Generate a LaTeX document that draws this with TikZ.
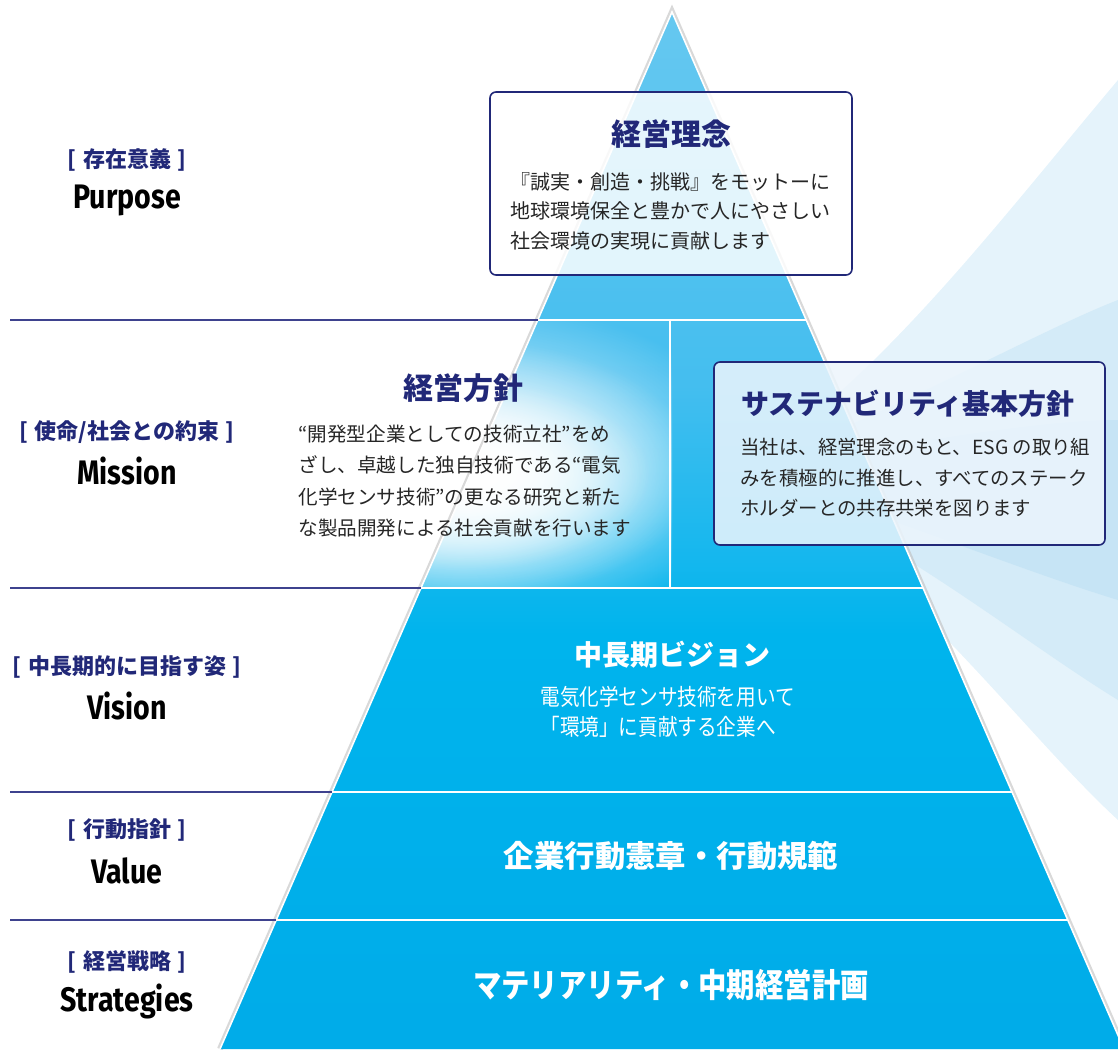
\documentclass[tikz,border=0pt]{standalone}
\usepackage{fontspec}
\setmainfont{Noto Sans CJK JP}
\newfontfamily\jpnarrow[FakeStretch=0.86]{Noto Sans CJK JP}
\newfontfamily\latcond[FakeStretch=0.84]{Fira Sans}
\usepackage{tikz}
\usetikzlibrary{positioning}
\usetikzlibrary{calc}
\usetikzlibrary{fadings}
\definecolor{navy}{RGB}{33,40,120}
\definecolor{navyline}{RGB}{62,66,142}
\definecolor{pyrtop}{RGB}{152,216,245}
\definecolor{pyrupper}{RGB}{96,198,240}
\definecolor{pyrmission}{RGB}{68,190,239}
\definecolor{pyrmid}{RGB}{0,180,237}
\definecolor{pyrbot}{RGB}{0,161,227}
\definecolor{boxblue}{RGB}{236,245,252}
\definecolor{swoosha}{RGB}{229,243,251}
\definecolor{swooshb}{RGB}{212,235,248}
\definecolor{swooshc}{RGB}{198,228,245}
\pgfdeclareverticalshading{pyrshade}{100bp}{color(0bp)=(pyrbot); color(45bp)=(pyrmid); color(57bp)=(pyrmission); color(72bp)=(pyrupper); color(100bp)=(pyrtop)}
\tikzfading[name=glow, inner color=transparent!0, outer color=transparent!100]

\begin{document}
\begin{tikzpicture}[x=0.5pt,y=-0.5pt]
		\tikzset{
			lbljp/.style={text=navy,font=\fontsize{11}{13}\selectfont\bfseries},
			lblen/.style={text=black,font=\latcond\fontsize{17}{19}\selectfont\bfseries},
		}
		\tikzset{
			boxtitle/.style={text=navy,font=\fontsize{15}{18}\selectfont\bfseries},
			boxbody/.style={text=black!85,align=left,inner sep=0pt,font=\fontsize{10}{14.75}\selectfont},
			tiertitle/.style={text=white,font=\fontsize{14}{17}\selectfont\bfseries},
			infobox/.style={draw=navy,line width=0.8pt,rounded corners=3pt},
			sepline/.style={draw=white,line width=0.8pt},
			lblline/.style={draw=navyline,line width=1pt},
		}
		\newcommand{\labx}{127}
		\newcommand{\brk}{\hspace{0.3em}}
		
		\useasboundingbox (0,0) rectangle (1118,1049);
		
		% swooshes behind the pyramid
		\fill[swoosha] (740,470) .. controls (880,380) and (1000,220) .. (1118,80) -- (1118,820) .. controls (1020,730) and (900,560) .. cycle;
		\fill[swooshb] (740,470) .. controls (900,410) and (1040,330) .. (1118,300) -- (1118,700) .. controls (1020,640) and (900,540) .. cycle;
		\fill[swooshc] (740,470) .. controls (930,440) and (1040,420) .. (1118,420) -- (1118,600) .. controls (1020,570) and (900,520) .. cycle;
		
		\coordinate (apex) at (672,12);
		\coordinate (bl) at (220,1049);
		\coordinate (br) at (1124,1049);
		
		\foreach \t/\n in {0.2970/1,0.5554/2,0.7522/3,0.8756/4} {
			\coordinate (L\n) at ($(apex)!\t!(bl)$);
			\coordinate (R\n) at ($(apex)!\t!(br)$);
		}
		
		% pyramid
		\draw[black!25,line width=3pt,opacity=0.6] (bl) -- (apex) -- (br);
		\shade[shading=pyrshade] (apex) -- (bl) -- (br) -- cycle;
		\draw[white,line width=0.8pt] (bl) -- (apex) -- (br);
		\begin{scope}
			\clip (L1) -- (apex |- L1) -- (apex |- L2) -- (L2) -- cycle;
			\fill[white,path fading=glow] (160,300) rectangle (760,640);
			\fill[white,path fading=glow] (230,340) rectangle (700,600);
			\fill[white,path fading=glow] (280,380) rectangle (650,570);
		\end{scope}
		
		\coordinate (lm) at (10,0);
		\foreach \n in {1,...,4} {
			\draw[sepline] (L\n) -- (R\n);
			\draw[lblline] (L\n -| lm) -- (L\n);
		}
		\draw[sepline] ($(apex |- L1)+(-2,0)$) -- ($(apex |- L2)+(-2,0)$);
		
		% purpose
		\node[infobox,fill=white,fill opacity=0.84,minimum width=181pt,minimum height=91.5pt] (philbox) at (671,183.5) {};
		\node[boxtitle] (philtitle) at (671,134) {経営理念};
		\node[boxbody,anchor=west] (philtext) at (510,211) {『誠実・創造・挑戦』をモットーに\\地球環境保全と豊かで人にやさしい\\社会環境の実現に貢献します};
		
		% mission
		\node[boxtitle] (policytitle) at (463,388) {経営方針};
		\node[boxbody,anchor=west,font=\fontsize{9.8}{15.8}\selectfont] (policytext) at (298,481) {“開発型企業としての技術立社”をめ\\ざし、卓越した独自技術である“電気\\化学センサ技術”の更なる研究と新た\\な製品開発による社会貢献を行います};
		\node[infobox,fill=boxblue,fill opacity=0.86,minimum width=195.5pt,minimum height=91.5pt] (susbox) at (909.5,453.5) {};
		\node[boxtitle,font=\fontsize{14}{17}\selectfont\bfseries] (sustitle) at (908,404) {サステナビリティ基本方針};
		\node[boxbody,anchor=west,font=\fontsize{9.7}{15.25}\selectfont] (sustext) at (740,478) {当社は、経営理念のもと、ESG の取り組\\みを積極的に推進し、すべてのステーク\\ホルダーとの共存共栄を図ります};
		
		% vision, value, strategies
		\node[tiertitle] (visiontitle) at (672,655) {中長期ビジョン};
		\node[boxbody,anchor=west,text=white,font=\jpnarrow\fontsize{11.4}{15}\selectfont] (visiontext) at (540,712) {電気化学センサ技術を用いて\\「環境」に貢献する企業へ};
		\node[tiertitle,font=\fontsize{15.2}{19}\selectfont\bfseries] (valuetext) at (671,856) {企業行動憲章・行動規範};
		\node[tiertitle,font=\jpnarrow\fontsize{16.5}{19}\selectfont\bfseries] (strattext) at (671,985) {マテリアリティ・中期経営計画};
		
		% left labels
		\node[lbljp] (purposejp) at (\labx,160) {[\brk 存在意義\brk ]};
		\node[lblen] (purposeen) at (\labx,200) {Purpose};
		\node[lbljp] (missionjp) at (\labx,432) {[\brk 使命/社会との約束\brk ]};
		\node[lblen] (missionen) at (\labx,471) {Mission};
		\node[lbljp] (visionjp) at (\labx,667) {[\brk 中長期的に目指す姿\brk ]};
		\node[lblen] (visionen) at (\labx,706) {Vision};
		\node[lbljp] (valuejp) at (\labx,830) {[\brk 行動指針\brk ]};
		\node[lblen] (valueen) at (\labx,871) {Value};
		\node[lbljp] (stratjp) at (\labx,962) {[\brk 経営戦略\brk ]};
		\node[lblen] (straten) at (\labx,1001) {Strategies};
	\end{tikzpicture}
\end{document}
